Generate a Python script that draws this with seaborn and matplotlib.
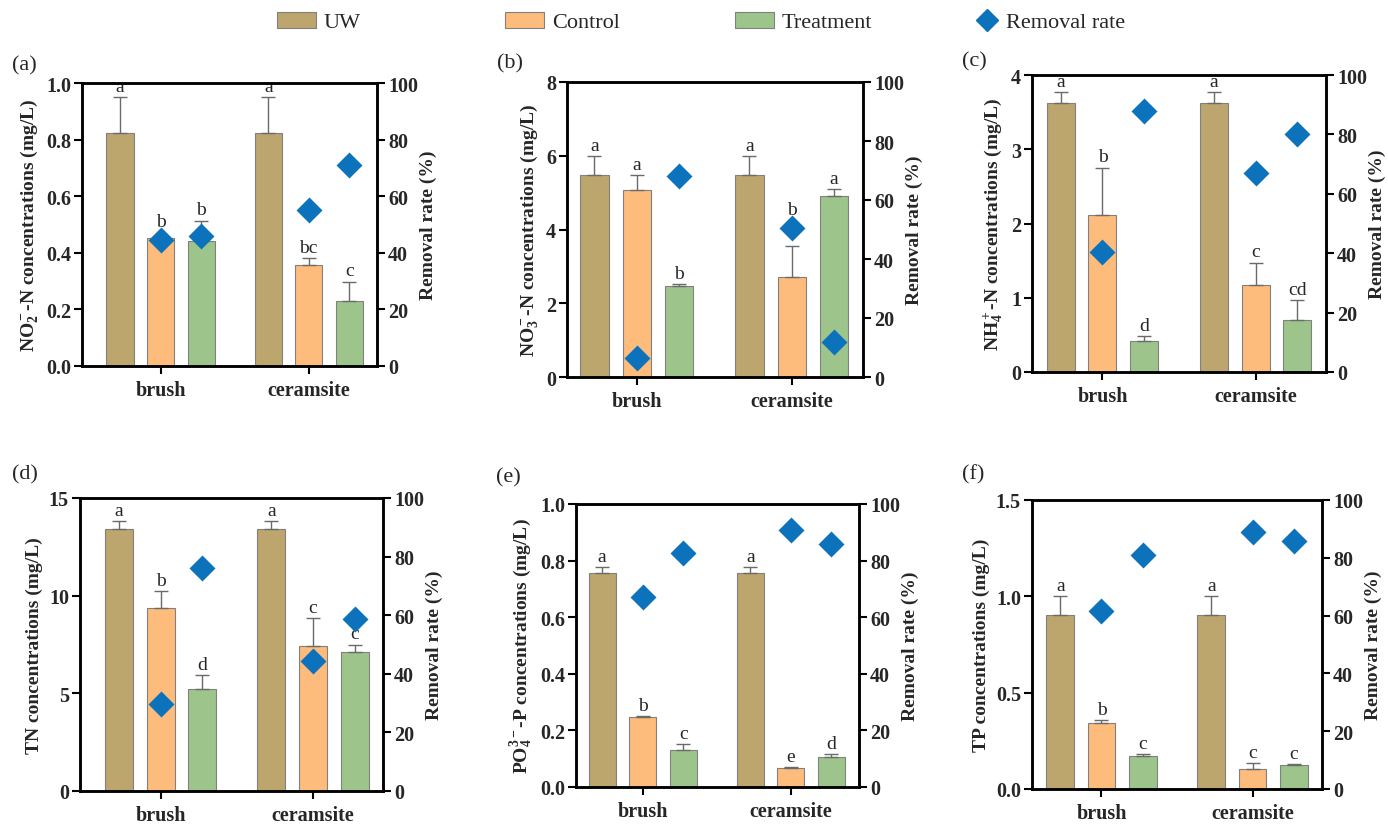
import numpy as np
import pandas as pd
import matplotlib
matplotlib.use("Agg")
import matplotlib.pyplot as plt
from matplotlib.patches import Patch
from matplotlib.lines import Line2D
import seaborn as sns

# categories
media = ["brush", "ceramsite"]
groups = ["UW", "Control", "Treatment"]

# concentrations, order: brush UW/Control/Treatment, ceramsite UW/Control/Treatment
no2_mean = [0.823, 0.452, 0.443, 0.823, 0.358, 0.229]
no2_err = [0.127, 0.004, 0.071, 0.127, 0.024, 0.069]
no2_letters = ["a", "b", "b", "a", "bc", "c"]
no2_removal = [44.5, 46.0, 55.2, 71.0]  # brush Control/Treatment, ceramsite Control/Treatment

no3_mean = [5.49, 5.07, 2.47, 5.49, 2.70, 4.92]
no3_err = [0.49, 0.41, 0.04, 0.49, 0.84, 0.18]
no3_letters = ["a", "a", "b", "a", "b", "a"]
no3_removal = [6.5, 68.3, 50.5, 12.0]

nh4_mean = [3.62, 2.11, 0.42, 3.62, 1.17, 0.70]
nh4_err = [0.15, 0.64, 0.06, 0.15, 0.30, 0.27]
nh4_letters = ["a", "b", "d", "a", "c", "cd"]
nh4_removal = [40.3, 87.8, 67.0, 80.3]

tn_mean = [13.42, 9.39, 5.24, 13.42, 7.43, 7.12]
tn_err = [0.40, 0.85, 0.68, 0.40, 1.43, 0.38]
tn_letters = ["a", "b", "d", "a", "c", "c"]
tn_removal = [29.8, 76.0, 44.2, 58.6]

po4_mean = [0.756, 0.248, 0.131, 0.756, 0.066, 0.107]
po4_err = [0.021, 0.003, 0.021, 0.021, 0.003, 0.009]
po4_letters = ["a", "b", "c", "a", "e", "d"]
po4_removal = [67.0, 82.7, 90.9, 86.0]

tp_mean = [0.905, 0.342, 0.170, 0.905, 0.102, 0.125]
tp_err = [0.095, 0.016, 0.012, 0.095, 0.031, 0.003]
tp_letters = ["a", "b", "c", "a", "c", "c"]
tp_removal = [61.5, 81.0, 88.8, 85.9]

bar_colors = ["#BCA66D", "#FDBB7C", "#9DC58B"]
diamond_color = "#0D72BC"

sns.set_style("ticks")
plt.rcParams["font.family"] = ["Liberation Serif", "DejaVu Serif"]
plt.rcParams["font.weight"] = "bold"
plt.rcParams["mathtext.fontset"] = "custom"
plt.rcParams["mathtext.rm"] = "Liberation Serif:bold"
plt.rcParams["mathtext.bf"] = "Liberation Serif:bold"
plt.rcParams["mathtext.it"] = "Liberation Serif:bold:italic"
plt.rcParams["mathtext.default"] = "rm"

W, H = 1388, 828
fig = plt.figure(figsize=(W / 100, H / 100), dpi=100)

# (tag, ylabel, mean, err, letters, removal, ymax, yticks, axes box px [x0, x1, ytop, ybottom], xlim left, tag pos)
panels = [
    ("(a)", r"NO$_2^-$-N concentrations (mg/L)", no2_mean, no2_err, no2_letters, no2_removal,
     1.0, [0, 0.2, 0.4, 0.6, 0.8, 1.0], [82, 377, 84, 367], -0.53, (12, 66)),
    ("(b)", r"NO$_3^-$-N concentrations (mg/L)", no3_mean, no3_err, no3_letters, no3_removal,
     8, [0, 2, 4, 6, 8], [567, 863, 83, 378], -0.45, (497, 64)),
    ("(c)", r"NH$_4^+$-N concentrations (mg/L)", nh4_mean, nh4_err, nh4_letters, nh4_removal,
     4, [0, 1, 2, 3, 4], [1032, 1326, 76, 373], -0.46, (962, 62)),
    ("(d)", "TN concentrations (mg/L)", tn_mean, tn_err, tn_letters, tn_removal,
     15, [0, 5, 10, 15], [80, 383, 499, 792], -0.53, (12, 475)),
    ("(e)", r"PO$_4^{3-}$-P concentrations (mg/L)", po4_mean, po4_err, po4_letters, po4_removal,
     1.0, [0, 0.2, 0.4, 0.6, 0.8, 1.0], [576, 859, 505, 788], -0.45, (496, 478)),
    ("(f)", "TP concentrations (mg/L)", tp_mean, tp_err, tp_letters, tp_removal,
     1.5, [0, 0.5, 1.0, 1.5], [1032, 1322, 501, 790], -0.46, (962, 475)),
]

for tag, ylabel, mean, err, letters, removal, ymax, yticks, box, xleft, tagpos in panels:
    x0, x1, yt, yb = box
    ax = fig.add_axes([x0 / W, 1 - yb / H, (x1 - x0) / W, (yb - yt) / H])

    df = pd.DataFrame({
        "medium": np.repeat(media, len(groups)),
        "group": groups * len(media),
        "value": mean,
    })
    sns.barplot(data=df, x="medium", y="value", hue="group", order=media, hue_order=groups,
                palette=bar_colors, saturation=1, width=0.82, gap=0.33, edgecolor="#808080",
                linewidth=0.8, errorbar=None, legend=False, ax=ax)

    bars = sorted(ax.patches, key=lambda p: p.get_x())
    xs = [p.get_x() + p.get_width() / 2 for p in bars]
    ax.errorbar(xs, mean, yerr=[np.zeros(len(err)), err], fmt="none", ecolor="#6a6a6a",
                elinewidth=1, capsize=5, capthick=1)

    # removal rate diamonds over the Control and Treatment bars
    rx = [xs[1], xs[2], xs[4], xs[5]]
    ax2 = ax.twinx()
    sns.scatterplot(x=rx, y=removal, marker="D", s=175, color=diamond_color, linewidth=0,
                    ax=ax2, zorder=5)

    # significance letters, lifted over a diamond that sits on the error bar
    dia_y = {1: removal[0], 2: removal[1], 4: removal[2], 5: removal[3]}
    for i, (x, m, e, lt) in enumerate(zip(xs, mean, err, letters)):
        ly = m + e + 0.008 * ymax
        if i in dia_y:
            dy = dia_y[i] / 100 * ymax
            if -0.03 < (dy - (m + e)) / ymax < 0.075:
                ly = dy + 0.035 * ymax
        ax.text(x, ly, lt, ha="center", va="bottom", fontsize=14, fontweight="normal")

    ax.set_ylim(0, ymax)
    ax.set_yticks(yticks)
    ax2.set_ylim(0, 100)
    ax2.set_yticks([0, 20, 40, 60, 80, 100])
    ax.set_xlim(xleft, 1.46)
    ax.set_xticks([0, 1], media)
    ax.set_xlabel("")
    ax.set_ylabel(ylabel, fontsize=14, fontweight="bold", labelpad=4)
    ax2.set_ylabel("Removal rate (%)", fontsize=14, fontweight="bold", labelpad=1)

    for a in (ax, ax2):
        for s in a.spines.values():
            s.set_linewidth(1.8)
            s.set_color("black")
        a.tick_params(axis="both", direction="out", length=6, width=1.5, labelsize=14.5,
                      color="black", pad=2)
    ax.tick_params(axis="x", pad=4)

    fig.text(tagpos[0] / W, 1 - tagpos[1] / H, tag, fontsize=16, fontweight="normal",
             ha="left", va="center")

# legend entries spread across the top
legend_items = [
    (Patch(facecolor=bar_colors[0], edgecolor="#808080", linewidth=0.8), "UW", 277, 1.75),
    (Patch(facecolor=bar_colors[1], edgecolor="#808080", linewidth=0.8), "Control", 505, 1.75),
    (Patch(facecolor=bar_colors[2], edgecolor="#808080", linewidth=0.8), "Treatment", 735, 1.75),
    (Line2D([], [], marker="D", linestyle="none", color=diamond_color, markersize=11),
     "Removal rate", 976, 1.0),
]
for handle, label, px, hl in legend_items:
    fig.legend(handles=[handle], labels=[label], loc="center left",
               bbox_to_anchor=(px / W, 1 - 23 / H), frameon=False, handlelength=hl,
               handleheight=0.75, handletextpad=0.35, borderpad=0, borderaxespad=0,
               prop={"size": 16, "weight": "normal"})

fig.savefig("out.png", dpi=100)
